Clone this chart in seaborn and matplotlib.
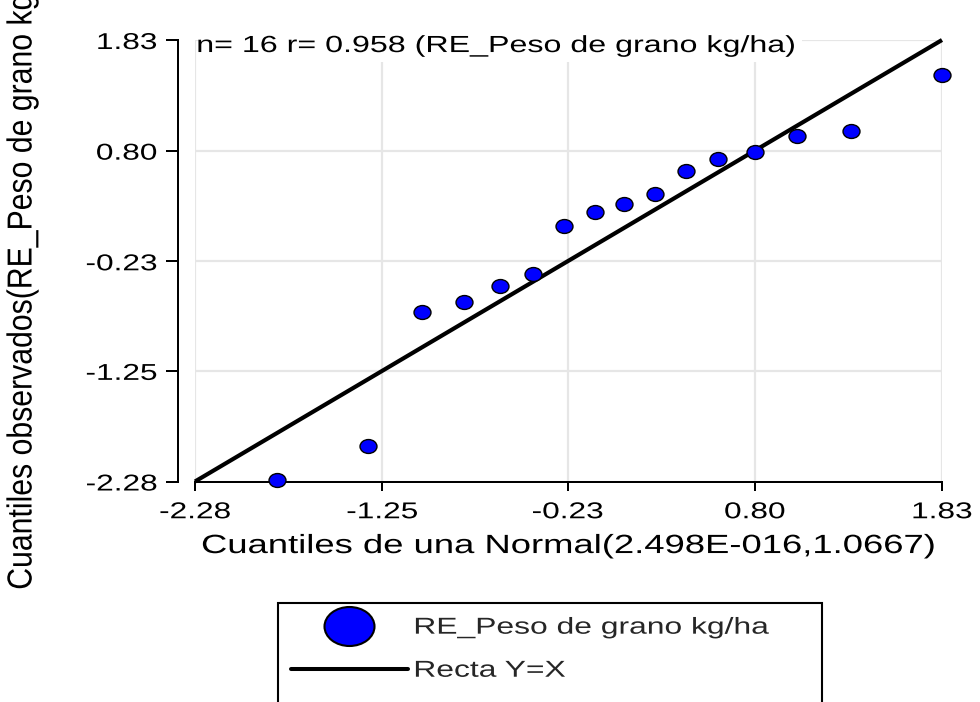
import matplotlib
matplotlib.use("Agg")
import matplotlib.pyplot as plt
import pandas as pd
import seaborn as sns
from matplotlib.path import Path
from matplotlib.patches import Rectangle
from matplotlib.lines import Line2D
from matplotlib.patheffects import AbstractPathEffect
from matplotlib.transforms import Affine2D

# Theoretical normal quantiles and observed residual quantiles (n = 16)
normal_q = [-1.83, -1.33, -1.03, -0.80, -0.60, -0.42, -0.25, -0.08,
            0.08, 0.25, 0.42, 0.60, 0.80, 1.03, 1.33, 1.83]
observed_q = [-2.27, -1.95, -0.70, -0.61, -0.46, -0.35, 0.10, 0.23,
              0.30, 0.40, 0.61, 0.72, 0.79, 0.94, 0.98, 1.50]
# Reference line Y = X across the axis range
ref_line = [-2.28, 1.83]
tick_values = [-2.28, -1.25, -0.23, 0.80, 1.83]
tick_labels = ["-2.28", "-1.25", "-0.23", "0.80", "1.83"]

series_label = "RE_Peso de grano kg/ha"
line_label = "Recta Y=X"
stats_text = "n= 16 r= 0.958 (RE_Peso de grano kg/ha)"
x_title = "Cuantiles de una Normal(2.498E-016,1.0667)"
y_title = "Cuantiles observados(RE_Peso de grano kg/ha)"

df = pd.DataFrame({"normal": normal_q, "observed": observed_q})


class TextStretch(AbstractPathEffect):
    """Scale glyph outlines in the text's own frame (wide / narrow lettering)."""

    def __init__(self, sx=1.0, sy=1.0, anchor=0.5):
        super().__init__((0.0, 0.0))
        self._sx = sx
        self._sy = sy
        self._anchor = anchor

    def draw_path(self, renderer, gc, tpath, affine, rgbFace=None):
        ext = tpath.get_extents()
        cx = ext.x0 + self._anchor * ext.width
        cy = 0.5 * (ext.y0 + ext.y1)
        local = (Affine2D().translate(-cx, -cy)
                 .scale(self._sx, self._sy).translate(cx, cy))
        renderer.draw_path(gc, tpath, local + affine, rgbFace)


def ellipse_marker(ratio):
    circle = Path.unit_circle()
    return Path(circle.vertices * [1.0, ratio], circle.codes)


WIDE = 1.38
BLUE = "#0000ff"

sns.set_theme(style="ticks")
plt.rcParams["font.family"] = ["Liberation Sans", "DejaVu Sans"]

fig = plt.figure(figsize=(9.8, 7.02), dpi=100)
fig.patch.set_facecolor("white")
ax = fig.add_axes([195 / 980, 1 - 481.5 / 702, 747 / 980, 441.5 / 702])
ax.set_facecolor("white")

sns.lineplot(x=ref_line, y=ref_line, color="black", linewidth=3.0,
             solid_capstyle="butt", clip_on=False, zorder=3, ax=ax,
             legend=False)
sns.scatterplot(data=df, x="normal", y="observed",
                marker=ellipse_marker(0.82), s=12.2 ** 2, color=BLUE,
                edgecolor="black", linewidth=1.0, clip_on=False, zorder=4,
                ax=ax, legend=False)

ax.set_xlim(-2.28, 1.83)
ax.set_ylim(-2.28, 1.83)
ax.set_xticks(tick_values)
ax.set_xticklabels(tick_labels)
ax.set_yticks(tick_values)
ax.set_yticklabels(tick_labels)

ax.grid(True, color="#e6e6e6", linewidth=1.6)
ax.set_axisbelow(True)
for side in ["top", "right"]:
    ax.spines[side].set_visible(False)
for side in ["left", "bottom"]:
    ax.spines[side].set_linewidth(1.44)
    ax.spines[side].set_color("black")
ax.spines["left"].set_position(("outward", 12.2))

ax.tick_params(axis="y", length=8.6, width=1.44, pad=6.5, labelsize=16.5,
               colors="black", left=True)
ax.tick_params(axis="x", length=6.5, width=1.44, pad=7.0, labelsize=16.5,
               colors="black", bottom=True)
for lab in ax.get_xticklabels():
    lab.set_path_effects([TextStretch(WIDE, anchor=0.5)])
for lab in ax.get_yticklabels():
    lab.set_path_effects([TextStretch(WIDE, anchor=1.0)])

# white panel behind the summary line
ax.add_patch(Rectangle((-2.264, 1.625), 1.059 + 2.264, 0.4,
                       facecolor="white", edgecolor="none", zorder=1,
                       clip_on=False))
ax.text(-2.27, 1.718, stats_text, ha="left", va="baseline", fontsize=16.8,
        color="black", zorder=5,
        path_effects=[TextStretch(WIDE, anchor=0.0)])

ax.set_xlabel(x_title, fontsize=19, color="black",
              path_effects=[TextStretch(WIDE, anchor=0.5)])
ax.xaxis.set_label_coords(0.5, -0.119)
ax.set_ylabel("")

# condensed vertical title, running past the top edge
fig.text(22 / 980, (702 - 590) / 702, y_title, rotation=90, ha="center",
         va="bottom", fontsize=25, color="black",
         path_effects=[TextStretch(0.87, 1.0, 0.0)])

h_pts = Line2D([], [], linestyle="none", marker=ellipse_marker(0.78),
               markersize=36, markerfacecolor=BLUE, markeredgecolor="black",
               markeredgewidth=1.5)
h_line = Line2D([], [], color="black", linewidth=2.9)
h_blank = Line2D([], [], linestyle="none")
leg = fig.legend([h_pts, h_line, h_blank], [series_label, line_label, " "],
                 loc="upper left",
                 bbox_to_anchor=(278 / 980, 1 - 603 / 702, (822 - 278) / 980, 0),
                 mode="expand", borderaxespad=0, borderpad=0.55,
                 handlelength=5.09, handletextpad=0.26, labelspacing=0.87,
                 fontsize=16.6, frameon=True, fancybox=False,
                 edgecolor="black", framealpha=1, facecolor="white")
leg.get_frame().set_linewidth(1.5)
for t in leg.get_texts():
    t.set_path_effects([TextStretch(WIDE, anchor=0.0)])

fig.savefig("out.png", dpi=100, facecolor="white")
